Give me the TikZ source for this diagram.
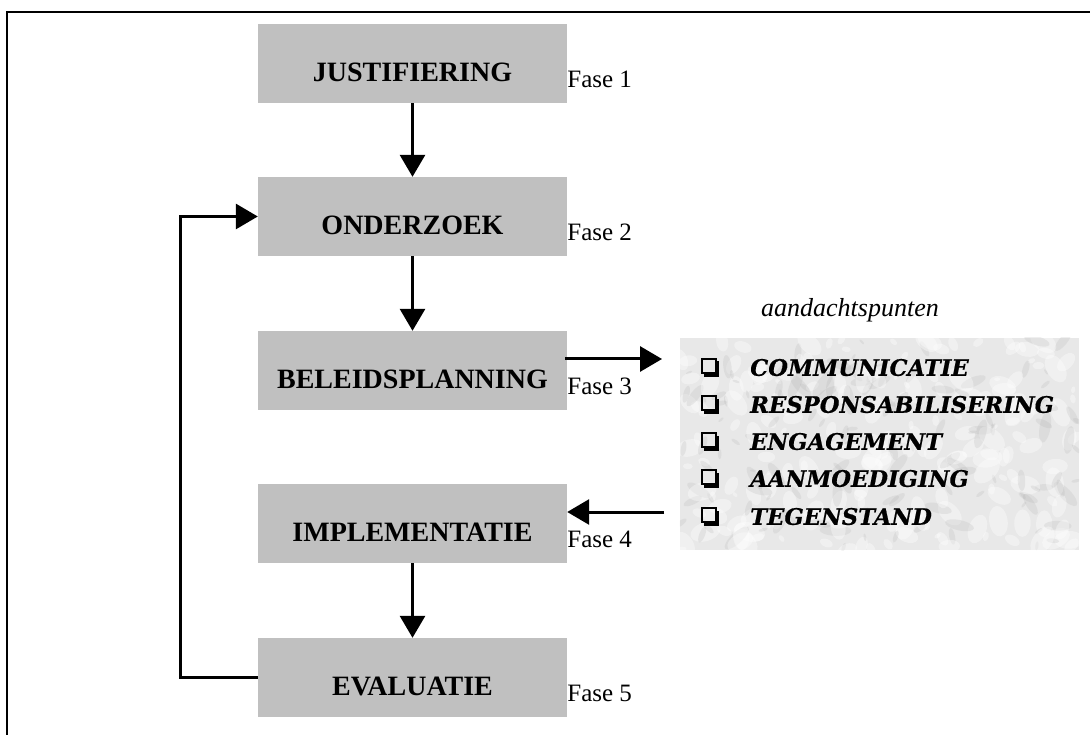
\documentclass[tikz,border=0pt]{standalone}
\usepackage{fontspec}
\setmainfont{Liberation Serif}
\newfontfamily\listfont[BoldItalicFeatures={FakeBold=0.6}]{DejaVu Serif}
\usetikzlibrary{arrows.meta,calc}
\definecolor{boxgray}{RGB}{192,192,192}
\begin{document}
\begin{tikzpicture}[x=1pt,y=-1pt,
  phase/.style={fill=boxgray, minimum width=309pt, minimum height=79pt, inner sep=0pt,
    text height=57.7pt, text depth=21.3pt, font=\fontsize{28}{31}\selectfont\bfseries},
  fase/.style={anchor=west, inner sep=0pt, font=\fontsize{25}{28}\selectfont},
  flow/.style={line width=3pt, line join=miter, -{Triangle[length=22pt,width=25pt]}},
  item/.style={anchor=base west, inner sep=0pt, font=\listfont\fontsize{22.7}{25}\selectfont\bfseries\itshape},
  chk/.style={line width=1.4pt},
  chkshadow/.style={line width=3pt, line cap=rect},
]
\useasboundingbox (0,0) rectangle (1090,735);
% frame
\draw[line width=2.5pt, line join=miter] (7,735) -- (7,12) -- (1090,12);

% phase boxes
\node[phase] (j) at (412.5,63.5) {JUSTIFIERING};
\node[phase] (o) at (412.5,216.5) {ONDERZOEK};
\node[phase] (b) at (412.5,370.5) {BELEIDSPLANNING};
\node[phase] (i) at (412.5,523.5) {IMPLEMENTATIE};
\node[phase] (e) at (412.5,677.5) {EVALUATIE};

% fase labels
\node[fase] (f1) at ($(j.east)+(0,16)$) {Fase 1};
\node[fase] (f2) at ($(o.east)+(0,16)$) {Fase 2};
\node[fase] (f3) at ($(b.east)+(0,16)$) {Fase 3};
\node[fase] (f4) at ($(i.east)+(0,16)$) {Fase 4};
\node[fase] (f5) at ($(e.east)+(0,16)$) {Fase 5};

% flow arrows
\draw[flow] (j) -- (o);
\draw[flow] (o) -- (b);
\draw[flow] (i) -- (e);
\draw[flow] (e.west) -- ++(-77,0) |- (o.west);

% attention points panel
\node[minimum width=399pt, minimum height=212pt, inner sep=0pt] (pts) at (879.5,444) {};
\begin{scope}
  \clip (pts.north west) rectangle (pts.south east);
  \fill[gray!18] (pts.north west) rectangle (pts.south east);
  \pgfmathsetseed{11}
  \foreach \k in {1,...,340} {
    \pgfmathsetmacro{\xx}{680+399*rnd}
    \pgfmathsetmacro{\yy}{338+212*rnd}
    \pgfmathsetmacro{\rr}{3+13*rnd}
    \pgfmathsetmacro{\rot}{180*rnd}
    \pgfmathsetmacro{\cc}{rnd}
    \ifdim \cc pt < 0.58pt
      \fill[white, opacity=0.35, rotate around={\rot:(\xx,\yy)}] (\xx,\yy) ellipse[x radius=\rr, y radius=0.6*\rr];
    \else
      \fill[gray!70, opacity=0.18, rotate around={\rot:(\xx,\yy)}] (\xx,\yy) ellipse[x radius=\rr, y radius=0.35*\rr];
    \fi
  }
\end{scope}

\node[anchor=base, inner sep=0pt, font=\fontsize{26}{29}\selectfont\itshape] (ttl) at (850,317) {aandachtspunten};

\coordinate (a3e) at (662,359);
\coordinate (a4s) at (664,512);
\draw[flow] ($(b.east)+(-2,-11.5)$) -- (a3e);
\draw[flow] (a4s) -- (i.east |- a4s);

% list items
\foreach \y/\t/\n in {368/COMMUNICATIE/p1, 405/RESPONSABILISERING/p2, 442/ENGAGEMENT/p3, 479/AANMOEDIGING/p4, 517/TEGENSTAND/p5} {
  \draw[chkshadow] (705,\y+7) -- (717.5,\y+7) -- (717.5,\y-5);
  \draw[chk] (702,\y-9) rectangle (716,\y+5);
  \node[item] (\n) at (750,\y+7.8) {\t};
}
\end{tikzpicture}
\end{document}
